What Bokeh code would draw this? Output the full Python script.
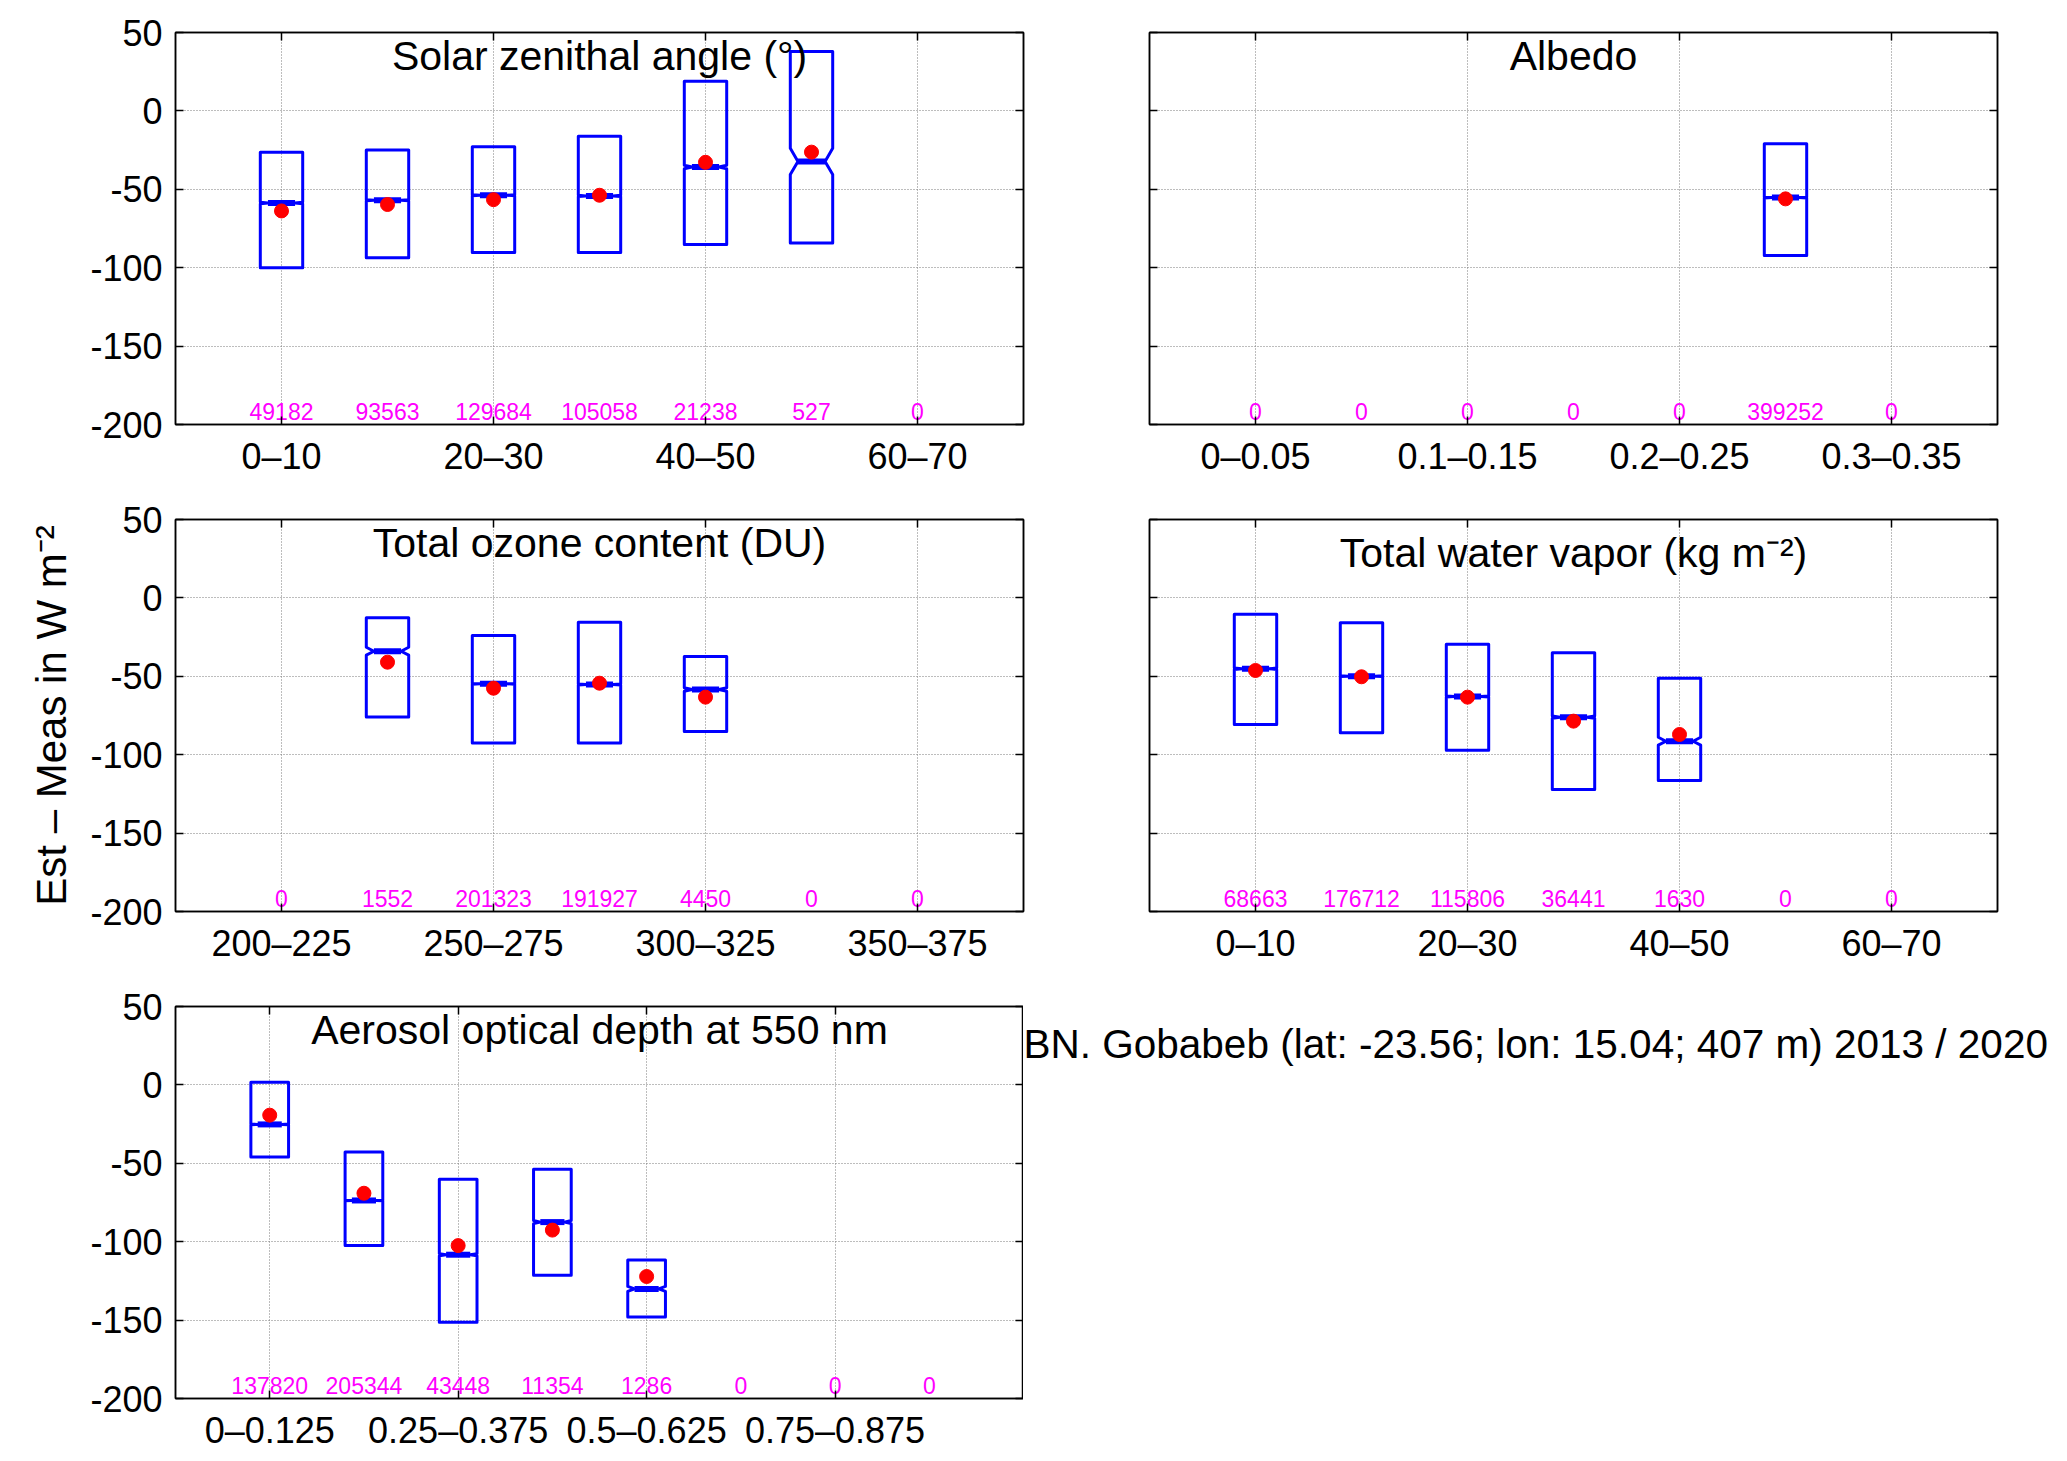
import math
from bokeh.plotting import figure
from bokeh.models import FixedTicker, LinearAxis, Label, Range1d, CustomJSTickFormatter
from bokeh.layouts import column, row
from bokeh.embed import file_html
from bokeh.resources import INLINE
from bokeh.core.properties import value

FONT = "Liberation Sans"
NAN = float("nan")

# ---------------- data ----------------
sza_labels = ["0–10", "10–20", "20–30", "30–40", "40–50", "50–60", "60–70"]
sza_q3 = [-26.3, -25.0, -22.9, -16.1, 18.9, 37.9, NAN]
sza_q1 = [-100.0, -93.6, -90.3, -90.3, -85.2, -84.3, NAN]
sza_med = [-58.7, -57.0, -53.8, -54.2, -35.8, -32.2, NAN]
sza_mean = [-63.8, -59.7, -56.6, -53.8, -32.8, -26.3, NAN]
sza_n = [49182, 93563, 129684, 105058, 21238, 527, 0]

alb_labels = ["0–0.05", "0.05–0.1", "0.1–0.15", "0.15–0.2", "0.2–0.25", "0.25–0.3", "0.3–0.35"]
alb_q3 = [NAN, NAN, NAN, NAN, NAN, -21.0, NAN]
alb_q1 = [NAN, NAN, NAN, NAN, NAN, -92.2, NAN]
alb_med = [NAN, NAN, NAN, NAN, NAN, -55.3, NAN]
alb_mean = [NAN, NAN, NAN, NAN, NAN, -56.1, NAN]
alb_n = [0, 0, 0, 0, 0, 399252, 0]

oz_labels = ["200–225", "225–250", "250–275", "275–300", "300–325", "325–350", "350–375"]
oz_q3 = [NAN, -12.7, -24.0, -15.5, -37.4, NAN, NAN]
oz_q1 = [NAN, -75.9, -92.6, -92.6, -85.2, NAN, NAN]
oz_med = [NAN, -34.0, -54.8, -55.2, -58.4, NAN, NAN]
oz_mean = [NAN, -41.0, -57.6, -54.4, -63.3, NAN, NAN]
oz_n = [0, 1552, 201323, 191927, 4450, 0, 0]

wv_labels = ["0–10", "10–20", "20–30", "30–40", "40–50", "50–60", "60–70"]
wv_q3 = [-10.4, -15.9, -29.5, -35.0, -51.2, NAN, NAN]
wv_q1 = [-80.7, -86.0, -97.1, -122.2, -116.5, NAN, NAN]
wv_med = [-45.2, -49.9, -62.9, -76.1, -91.4, NAN, NAN]
wv_mean = [-46.3, -50.3, -63.3, -78.6, -87.1, NAN, NAN]
wv_n = [68663, 176712, 115806, 36441, 1630, 0, 0]

aod_labels = ["0–0.125", "0.125–0.25", "0.25–0.375", "0.375–0.5",
              "0.5–0.625", "0.625–0.75", "0.75–0.875", "0.875–1"]
aod_q3 = [1.7, -42.8, -60.2, -53.8, -111.7, NAN, NAN, NAN]
aod_q1 = [-46.0, -102.5, -151.3, -121.4, -148.1, NAN, NAN, NAN]
aod_med = [-25.2, -73.7, -108.3, -87.5, -130.1, NAN, NAN, NAN]
aod_mean = [-19.3, -69.1, -102.5, -92.6, -122.2, NAN, NAN, NAN]
aod_n = [137820, 205344, 43448, 11354, 1286, 0, 0, 0]

y_ticks = [-200, -150, -100, -50, 0, 50]

titles = {
    "sza": "Solar zenithal angle (°)",
    "alb": "Albedo",
    "oz": "Total ozone content (DU)",
    "wv": "Total water vapor (kg m⁻²)",
    "aod": "Aerosol optical depth at 550 nm",
}
ylabel_text = "Est – Meas in W m⁻²"
station_text = "BN. Gobabeb (lat: -23.56; lon: 15.04; 407 m) 2013 / 2020"

# ---------------- styling ----------------
BLUE = "#0000FF"
RED = "#FF0000"
MAGENTA = "#FF00FF"
BOX_W = 0.4
FRAME_W = 848
FRAME_H = 392


def make_panel(labels, q1, q3, med, mean, counts, title, show_ylabels,
               bl, br, bt, bb, title_dy=0):
    n = len(labels)
    p = figure(frame_width=FRAME_W, frame_height=FRAME_H,
               x_range=Range1d(0, n + 1), y_range=Range1d(-200, 50),
               output_backend="svg", toolbar_location=None,
               min_border_left=bl, min_border_right=br,
               min_border_top=bt, min_border_bottom=bb,
               background_fill_color="white", border_fill_color="white")
    p.outline_line_color = "black"
    p.outline_line_width = 1.5

    xt = [i + 1 for i in range(0, n, 2)]
    xticker = FixedTicker(ticks=xt)
    yticker = FixedTicker(ticks=y_ticks)
    blank = CustomJSTickFormatter(code="return ''")

    xa = p.xaxis[0]
    xa.ticker = xticker
    xa.major_label_overrides = {t: labels[t - 1] for t in xt}
    ya = p.yaxis[0]
    ya.ticker = yticker
    if show_ylabels:
        ya.major_label_overrides = {t: str(t) for t in y_ticks}
    else:
        ya.formatter = blank

    top = LinearAxis(ticker=xticker, formatter=blank)
    right = LinearAxis(ticker=yticker, formatter=blank)
    p.add_layout(top, "above")
    p.add_layout(right, "right")

    for ax in [xa, ya, top, right]:
        ax.axis_line_color = "black"
        ax.axis_line_width = 1.5
        ax.major_tick_line_color = "black"
        ax.major_tick_line_width = 1.5
        ax.major_tick_in = 8
        ax.major_tick_out = 0
        ax.minor_tick_line_color = None
        ax.major_label_text_font = FONT
        ax.major_label_text_font_size = "36px"
        ax.major_label_text_color = "black"
    xa.major_label_standoff = 11
    ya.major_label_standoff = 13
    top.major_label_standoff = 0
    right.major_label_standoff = 0
    if not show_ylabels:
        ya.major_label_standoff = 0

    p.xgrid.ticker = xticker
    p.ygrid.ticker = yticker
    for g in [p.xgrid[0], p.ygrid[0]]:
        g.grid_line_color = "#7a7a7a"
        g.grid_line_dash = "1 2"
        g.grid_line_width = 1

    # notched boxes
    xs_list, ys_list = [], []
    mx0, mx1, my, dx, dy = [], [], [], [], []
    for i in range(n):
        if math.isnan(med[i]):
            continue
        x = i + 1
        notch = 1.57 * (q3[i] - q1[i]) / math.sqrt(counts[i])
        hw = BOX_W / 2
        iw = BOX_W * 0.32
        xs_list.append([x - hw, x + hw, x + hw, x + iw, x + hw, x + hw,
                        x - hw, x - hw, x - iw, x - hw])
        ys_list.append([q1[i], q1[i], med[i] - notch, med[i], med[i] + notch, q3[i],
                        q3[i], med[i] + notch, med[i], med[i] - notch])
        mx0.append(x - iw)
        mx1.append(x + iw)
        my.append(med[i])
        dx.append(x)
        dy.append(mean[i])

    p.patches(xs_list, ys_list, fill_alpha=0, line_color=BLUE, line_width=3,
              line_join="round")
    p.segment(x0=mx0, y0=my, x1=mx1, y1=my, line_color=BLUE, line_width=6)
    p.scatter(dx, dy, size=14, fill_color=RED, line_color=RED)

    # sample counts
    p.text(x=[i + 1 for i in range(n)], y=[-192] * n, text=[str(c) for c in counts],
           text_font=value(FONT), text_font_size="23px", text_color=MAGENTA,
           text_align="center", text_baseline="alphabetic")

    p.add_layout(Label(x=(n + 1) / 2, y=50, text=title, text_font=FONT,
                       text_font_size="41px", text_color="black",
                       text_align="center", text_baseline="top", y_offset=title_dy))
    return p


f1 = make_panel(sza_labels, sza_q1, sza_q3, sza_med, sza_mean, sza_n, titles["sza"],
                True, 175, 40, 32, 71)
f2 = make_panel(alb_labels, alb_q1, alb_q3, alb_med, alb_mean, alb_n, titles["alb"],
                False, 86, 20, 32, 71)
f3 = make_panel(oz_labels, oz_q1, oz_q3, oz_med, oz_mean, oz_n, titles["oz"],
                True, 175, 40, 24, 71)
f4 = make_panel(wv_labels, wv_q1, wv_q3, wv_med, wv_mean, wv_n, titles["wv"],
                False, 86, 20, 24, 71, title_dy=-10)
f5 = make_panel(aod_labels, aod_q1, aod_q3, aod_med, aod_mean, aod_n, titles["aod"],
                True, 175, 0, 24, 55)

# y-axis label on the middle-left panel
f3.yaxis[0].axis_label = ylabel_text
f3.yaxis[0].axis_label_text_font = FONT
f3.yaxis[0].axis_label_text_font_size = "42px"
f3.yaxis[0].axis_label_text_font_style = "normal"
f3.yaxis[0].axis_label_text_color = "black"
f3.yaxis[0].axis_label_standoff = 12

# station annotation, in a blank panel to the right of the bottom panel
fs = figure(frame_width=1036, frame_height=FRAME_H,
            x_range=Range1d(0, 1036), y_range=Range1d(-200, 50),
            x_axis_type=None, y_axis_type=None, output_backend="svg",
            toolbar_location=None, min_border_left=0, min_border_right=0,
            min_border_top=24, min_border_bottom=55,
            outline_line_color=None, background_fill_color="white",
            border_fill_color="white")
fs.add_layout(Label(x=0, y=26, text=station_text, text_font=FONT,
                    text_font_size="40.5px", text_color="black",
                    text_align="left", text_baseline="alphabetic"))

layout = column(row(f1, f2), row(f3, f4), row(f5, fs))

open("out.html", "w").write(file_html(layout, INLINE))
